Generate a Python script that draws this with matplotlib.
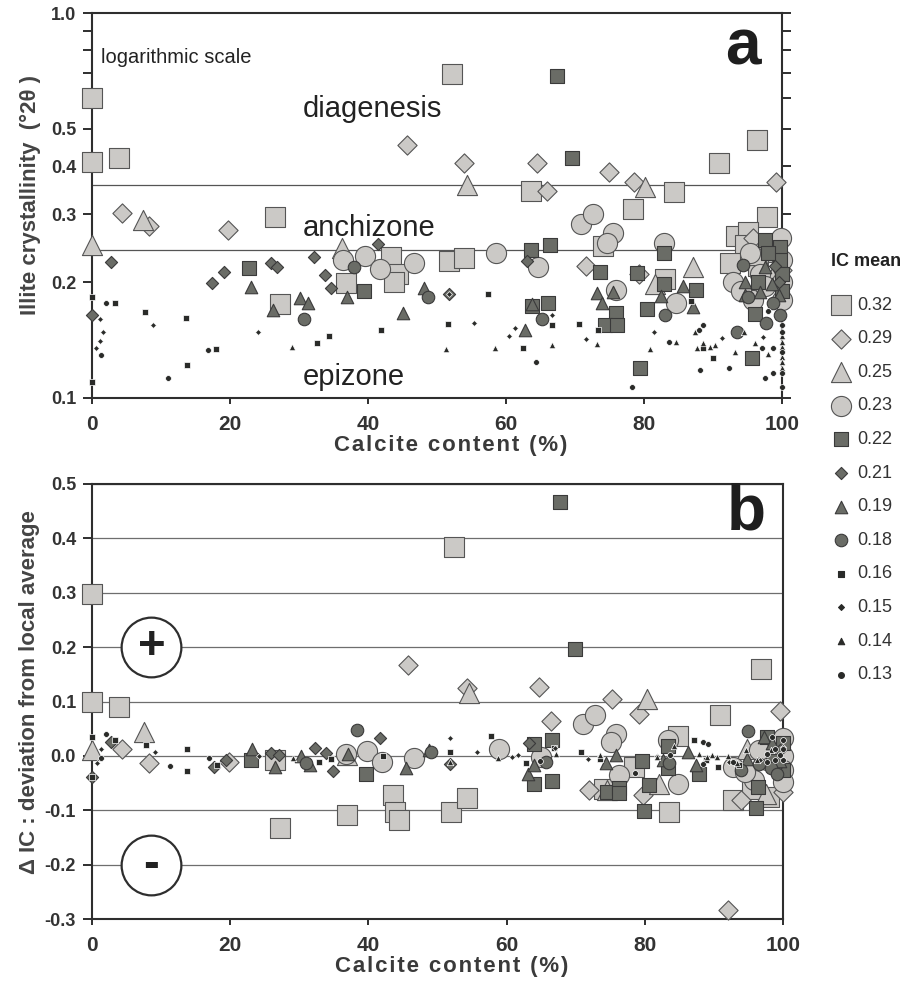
import numpy as np
import matplotlib
matplotlib.use('Agg')
import matplotlib.pyplot as plt
from matplotlib.ticker import FixedLocator, FixedFormatter, NullFormatter

plt.rcParams['font.family'] = ['Liberation Sans', 'DejaVu Sans']
plt.rcParams['font.weight'] = 'bold'
plt.rcParams['axes.labelweight'] = 'bold'

# IC mean classes and how they are drawn
ic_means = ['0.32', '0.29', '0.25', '0.23', '0.22', '0.21',
            '0.19', '0.18', '0.16', '0.15', '0.14', '0.13']
markers = ['s', 'D', '^', 'o'] * 3

# panel a: (calcite %, illite crystallinity)
a_032 = [(0, 0.60), (0, 0.41), (3.9, 0.42), (26.5, 0.295), (27.2, 0.175), (36.8, 0.199),
         (43.4, 0.232), (44.4, 0.21), (43.7, 0.20), (52.2, 0.695), (51.7, 0.227), (53.9, 0.231),
         (63.6, 0.345), (78.4, 0.31), (74.1, 0.248), (84.3, 0.343), (90.9, 0.408), (96.4, 0.468),
         (97.8, 0.295), (93.3, 0.263), (95.1, 0.27), (94.6, 0.25), (92.5, 0.224), (83.0, 0.204),
         (98.5, 0.24), (96.5, 0.22)]
a_029 = [(4.3, 0.303), (8.3, 0.28), (19.7, 0.273), (45.6, 0.455), (53.9, 0.408), (64.5, 0.408),
         (65.9, 0.345), (74.9, 0.386), (78.5, 0.363), (99.1, 0.363), (71.6, 0.22), (79.3, 0.21),
         (95.8, 0.26), (100, 0.215)]
a_025 = [(0, 0.25), (7.4, 0.29), (36.2, 0.245), (54.3, 0.357), (80.1, 0.354), (87.1, 0.219),
         (81.6, 0.198), (96.5, 0.235), (98.5, 0.205)]
a_023 = [(36.4, 0.228), (39.6, 0.234), (41.7, 0.216), (46.6, 0.224), (58.6, 0.238), (64.6, 0.219),
         (70.9, 0.283), (72.6, 0.30), (75.5, 0.268), (74.6, 0.253), (75.9, 0.191), (82.9, 0.253),
         (84.6, 0.176), (92.9, 0.20), (95.4, 0.238), (99.9, 0.26), (100, 0.228), (100, 0.2),
         (100, 0.18), (95.8, 0.18), (96.8, 0.21), (94.0, 0.19), (97.5, 0.195)]
a_022 = [(22.8, 0.218), (39.4, 0.19), (67.4, 0.685), (69.6, 0.42), (63.6, 0.242), (66.4, 0.25),
         (73.6, 0.213), (79.0, 0.211), (82.9, 0.238), (82.9, 0.198), (87.5, 0.191), (80.4, 0.17),
         (66.1, 0.176), (63.8, 0.173), (75.9, 0.166), (74.3, 0.155), (76.1, 0.155), (79.4, 0.12),
         (95.7, 0.127), (96.1, 0.165), (97.5, 0.257), (99.7, 0.246), (99.7, 0.228), (96.5, 0.2),
         (98.0, 0.238), (100, 0.19), (100, 0.21)]
a_021 = [(0, 0.164), (2.8, 0.226), (17.4, 0.199), (19.1, 0.213), (25.9, 0.224), (26.8, 0.219),
         (32.2, 0.232), (34.6, 0.193), (33.8, 0.209), (41.4, 0.251), (63.0, 0.227), (51.7, 0.186),
         (99.5, 0.2), (99.0, 0.22)]
a_019 = [(23.0, 0.194), (26.2, 0.169), (30.1, 0.182), (31.3, 0.177), (37.0, 0.183), (45.1, 0.166),
         (48.1, 0.193), (63.8, 0.175), (62.8, 0.15), (73.2, 0.187), (75.5, 0.188), (73.9, 0.176),
         (82.5, 0.184), (85.7, 0.195), (87.1, 0.172), (94.6, 0.185), (94.6, 0.2), (96.8, 0.189),
         (97.5, 0.219), (98.6, 0.198), (99.5, 0.185)]
a_018 = [(30.7, 0.16), (38.0, 0.219), (48.7, 0.183), (65.2, 0.16), (83.0, 0.164), (94.3, 0.221),
         (93.5, 0.148), (97.7, 0.157), (98.7, 0.177), (99.7, 0.164), (95.0, 0.183)]
a_016 = [(0, 0.183), (0, 0.11), (3.3, 0.177), (7.7, 0.167), (13.6, 0.161), (13.8, 0.122),
         (18.0, 0.134), (32.6, 0.139), (34.4, 0.145), (41.9, 0.15), (51.6, 0.156), (57.4, 0.186),
         (62.5, 0.135), (66.7, 0.155), (70.6, 0.156), (73.3, 0.15), (86.8, 0.179), (90.0, 0.127),
         (88.6, 0.135)]
a_015 = [(1.2, 0.16), (1.6, 0.148), (1.2, 0.141), (0.6, 0.135), (8.8, 0.155), (24.1, 0.148),
         (55.3, 0.157), (60.4, 0.145), (61.3, 0.152), (66.7, 0.164), (71.6, 0.142), (81.4, 0.148),
         (91.3, 0.143), (97.2, 0.144), (51.7, 0.186)]
a_014 = [(29.0, 0.136), (51.3, 0.134), (58.4, 0.135), (66.6, 0.137), (73.2, 0.138), (80.9, 0.134),
         (84.6, 0.14), (87.7, 0.135), (88.6, 0.139), (89.6, 0.136), (90.3, 0.137), (93.2, 0.132),
         (94.5, 0.148), (96.1, 0.139), (98.0, 0.13), (87.4, 0.148), (100, 0.136), (100, 0.128),
         (100, 0.124), (100, 0.12), (100, 0.14), (100, 0.145)]
a_013 = [(2.0, 0.177), (1.3, 0.129), (11.0, 0.113), (16.8, 0.133), (64.3, 0.124), (78.3, 0.107),
         (83.6, 0.14), (88.0, 0.15), (88.6, 0.155), (88.1, 0.118), (92.3, 0.12), (97.1, 0.135),
         (97.5, 0.113), (98.7, 0.116), (98.0, 0.168), (98.7, 0.135), (100, 0.116), (100, 0.107),
         (100, 0.148), (100, 0.155), (100, 0.132)]

# panel b: (calcite %, deviation from local average)
b_032 = [(0, 0.297), (0, 0.099), (3.9, 0.089), (27.2, -0.133), (26.5, -0.008), (36.9, -0.109),
         (43.5, -0.072), (43.9, -0.103), (44.4, -0.118), (52.4, 0.385), (52.0, -0.104),
         (54.2, -0.077), (90.9, 0.075), (96.8, 0.159), (83.5, -0.104), (84.8, 0.036),
         (78.5, -0.02), (74.1, -0.06), (92.7, -0.082), (98.0, -0.075), (95.5, -0.06)]
b_029 = [(4.4, 0.012), (8.3, -0.014), (19.8, -0.012), (45.8, 0.168), (54.2, 0.124), (64.7, 0.127),
         (66.4, 0.064), (75.2, 0.104), (79.1, 0.077), (99.6, 0.083), (71.9, -0.062), (79.7, -0.072),
         (92.1, -0.284), (93.9, -0.082), (100, -0.066)]
b_025 = [(0, 0.01), (7.5, 0.044), (36.9, 0.001), (54.5, 0.115), (80.3, 0.105), (82.0, -0.051),
         (74.6, -0.063), (94.8, 0.013), (97.5, -0.07)]
b_023 = [(36.7, 0.004), (39.8, 0.009), (41.9, -0.011), (46.6, -0.004), (58.9, 0.013), (65.0, -0.002),
         (71.0, 0.058), (72.8, 0.075), (75.9, 0.041), (75.1, 0.026), (76.2, -0.036), (83.3, 0.029),
         (84.8, -0.051), (92.8, -0.02), (100, 0.032), (100, 0.0), (100, -0.026), (100, -0.048),
         (95.8, -0.045), (97.7, -0.008), (94.5, -0.03), (96.5, 0.01)]
b_022 = [(23.0, -0.007), (39.7, -0.033), (67.7, 0.466), (69.9, 0.196), (63.9, 0.021), (66.6, 0.029),
         (63.9, -0.051), (66.5, -0.046), (74.5, -0.067), (76.2, -0.059), (76.2, -0.069),
         (79.6, -0.009), (80.6, -0.053), (79.9, -0.101), (83.3, 0.018), (83.3, -0.023),
         (87.8, -0.033), (96.4, -0.058), (96.1, -0.095), (97.7, 0.035), (100, 0.023),
         (100, -0.026), (98.5, -0.01)]
b_021 = [(0, -0.039), (2.8, 0.026), (17.7, -0.02), (19.4, -0.007), (25.9, 0.006), (27.0, 0.001),
         (32.3, 0.015), (33.9, 0.006), (34.9, -0.028), (41.7, 0.032), (63.3, 0.024), (51.8, -0.015),
         (99.5, 0.01), (99.0, -0.02)]
b_019 = [(23.1, 0.013), (26.5, -0.02), (30.3, 0.0), (31.6, -0.017), (37.1, 0.004), (45.4, -0.023),
         (48.8, 0.01), (63.1, -0.033), (63.9, -0.017), (74.4, -0.014), (75.9, 0.001), (82.6, -0.008),
         (86.2, 0.007), (87.4, -0.017), (94.8, -0.005), (97.2, 0.035), (98.4, 0.023), (99.5, -0.01)]
b_018 = [(31.0, -0.014), (38.3, 0.048), (49.0, 0.007), (65.7, -0.011), (83.5, -0.014), (94.9, 0.046),
         (93.9, -0.026), (98.2, -0.023), (99.2, -0.033), (96.5, -0.015)]
b_016 = [(0, 0.035), (0, -0.039), (3.3, 0.029), (7.8, 0.02), (13.8, 0.012), (13.8, -0.028),
         (18.1, -0.016), (32.8, -0.011), (34.6, -0.006), (42.1, 0.0), (51.8, 0.007), (57.7, 0.036),
         (62.8, -0.014), (66.8, 0.015), (70.8, 0.007), (73.5, -0.005), (87.1, 0.029), (90.6, -0.02),
         (88.9, -0.008), (93.7, -0.017)]
b_015 = [(1.3, 0.012), (0.7, -0.014), (9.1, 0.007), (24.1, 0.0), (51.8, 0.033), (55.7, 0.007),
         (60.8, -0.002), (61.7, 0.002), (67.0, 0.015), (71.8, -0.005), (81.8, 0.0), (92.2, -0.011),
         (96.6, -0.008), (100, 0.017)]
b_014 = [(29.1, -0.004), (51.8, -0.011), (58.7, -0.004), (67.1, 0.004), (73.5, 0.001), (81.8, -0.002),
         (84.2, 0.018), (87.9, 0.004), (89.0, -0.002), (89.7, 0.001), (90.4, -0.002), (92.0, 0.0),
         (93.3, -0.013), (94.7, 0.01), (96.2, -0.008), (98.2, 0.01)]
b_013 = [(2.0, 0.04), (1.3, -0.004), (11.3, -0.018), (16.9, -0.004), (64.8, -0.009), (78.6, -0.031),
         (83.7, 0.002), (88.4, 0.026), (89.1, 0.021), (88.4, -0.015), (92.8, -0.011), (97.7, 0.004),
         (98.4, 0.035), (98.9, 0.013), (98.9, -0.008), (100, 0.013), (100, -0.008), (97.7, -0.011),
         (99.5, 0.001), (100, 0.029)]

top_sets = [a_032, a_029, a_025, a_023, a_022, a_021, a_019, a_018, a_016, a_015, a_014, a_013]
bot_sets = [b_032, b_029, b_025, b_023, b_022, b_021, b_019, b_018, b_016, b_015, b_014, b_013]

zone_limits = [0.357, 0.242]

# styles
light, light_edge = '#cbc9c6', '#555555'
dark, dark_edge = '#6a6c66', '#3a3a3a'
small = '#2a2b29'
fills = [light] * 4 + [dark] * 4 + [small] * 4
edges = [light_edge] * 4 + [dark_edge] * 4 + ['white'] * 4
sizes = [14.5, 9.8, 14.5, 14.5, 9.4, 6.2, 9.0, 9.0, 4.4, 3.0, 4.6, 4.2]
txt = '#333333'

W, H = 916, 985
fig = plt.figure(figsize=(W / 100, H / 100), dpi=100)


def px_box(l, t, r, b):
    return [l / W, 1 - b / H, (r - l) / W, (b - t) / H]


def draw(ax, sets):
    for pts, m, ms, fc, ec in zip(sets, markers, sizes, fills, edges):
        x, y = zip(*pts)
        ax.scatter(x, y, s=ms ** 2, marker=m, facecolor=fc, edgecolor=ec,
                   linewidth=0.5 if ec == 'white' else 0.8, zorder=3, clip_on=False)


def style_axes(ax):
    for sp in ax.spines.values():
        sp.set_linewidth(1.5)
        sp.set_color('#2e2e2e')
    ax.set_xlim(0, 100)
    ax.set_xticks([0, 20, 40, 60, 80, 100])
    ax.tick_params(axis='x', direction='out', length=4, width=1.4, labelsize=15,
                   pad=8, labelcolor=txt, color='#2e2e2e')
    # slightly letter-spaced axis title, as in the original
    ax.set_xlabel('\u200a'.join('Calcite content (%)'), fontsize=16, color='#3a3a3a',
                  labelpad=1)
    ax.xaxis.label.set_x(0.52)


# ---- panel a ----
ax1 = fig.add_axes(px_box(92, 13, 782, 398))
style_axes(ax1)
ax1.set_yscale('log')
ax1.set_ylim(0.1, 1.0)
ax1.yaxis.set_major_locator(FixedLocator([0.1, 0.2, 0.3, 0.4, 0.5, 1.0]))
ax1.yaxis.set_major_formatter(FixedFormatter(['0.1', '0.2', '0.3', '0.4', '0.5', '1.0']))
ax1.yaxis.set_minor_locator(FixedLocator([0.6, 0.7, 0.8, 0.9]))
ax1.yaxis.set_minor_formatter(NullFormatter())
ax1.tick_params(axis='y', which='both', direction='out', length=6.5, width=1.4,
                left=True, right=True, labelsize=13, pad=5, labelcolor=txt, color='#2e2e2e')
for v in zone_limits:
    ax1.axhline(v, color='#555555', lw=0.9, zorder=1)
draw(ax1, top_sets)
ax1.set_ylabel('Illite crystallinity  (°2θ )', fontsize=16, color='#444444', labelpad=7)
ax1.yaxis.label.set_y(0.527)

ax1.text(0.013, 0.87, 'logarithmic scale', transform=ax1.transAxes, fontsize=14.5,
         fontweight='normal', color='#222222')
for label, yv in [('diagenesis', 0.536), ('anchizone', 0.264), ('epizone', 0.108)]:
    ax1.text(30.5, yv, label, fontsize=21, fontweight='normal', color='#222222',
             va='baseline')
ax1.text(0.944, 0.865, 'a', transform=ax1.transAxes, fontsize=46, ha='center',
         va='baseline', color='#1e1e1e')

# ---- panel b ----
ax2 = fig.add_axes(px_box(92, 484, 783, 919))
style_axes(ax2)
ax2.set_ylim(-0.3, 0.5)
yt = np.round(np.arange(-0.3, 0.51, 0.1), 1)
ax2.set_yticks(yt)
ax2.set_yticklabels(['%.1f' % v if v != 0 else '0.0' for v in yt])
ax2.tick_params(axis='y', direction='out', length=6.5, width=1.4, labelsize=13, pad=5,
                labelcolor=txt, color='#2e2e2e')
ax2.yaxis.grid(True, color='#6e6e6e', lw=0.9)
ax2.set_axisbelow(True)
draw(ax2, bot_sets)
ax2.set_ylabel('Δ IC : deviation from local average', fontsize=16, color='#444444',
               labelpad=3)
ax2.yaxis.label.set_y(0.522)

for yv, sign in [(0.2, '+'), (-0.2, '-')]:
    ax2.scatter([8.6], [yv], s=43 ** 2, marker='o', facecolor='white', edgecolor='#2e2e2e',
                linewidth=1.6, zorder=4)
    ax2.text(8.6, yv, sign, fontsize=34, ha='center', va='center', color='#222222', zorder=5)
ax2.text(0.947, 0.895, 'b', transform=ax2.transAxes, fontsize=46, ha='center',
         va='baseline', color='#1e1e1e')

# ---- legend (pixel overlay) ----
lax = fig.add_axes([0, 0, 1, 1], facecolor='none')
lax.set_xlim(0, W)
lax.set_ylim(H, 0)
lax.axis('off')
lax.text(866, 262, 'IC mean', fontsize=13, ha='center', va='center', color='#222222')
for i, (lab, m, ms, fc, ec) in enumerate(zip(ic_means, markers, sizes, fills, edges)):
    yy = 305 + i * 33.6
    lax.scatter([841], [yy], s=ms ** 2, marker=m, facecolor=fc,
                edgecolor=ec if ec != 'white' else small, linewidth=0.8)
    lax.text(857, yy, lab, fontsize=13, fontweight='normal', va='center', color='#333333')

fig.savefig('out.png', dpi=100)
